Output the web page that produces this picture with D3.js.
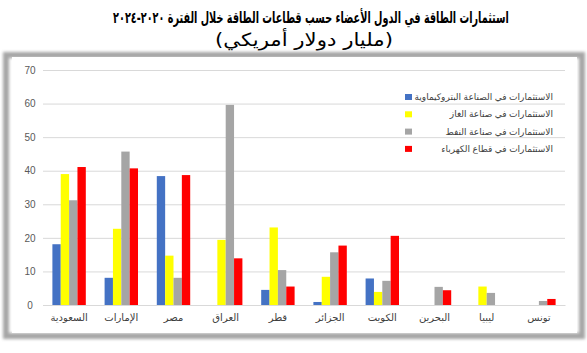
<!DOCTYPE html>
<html><head><meta charset="utf-8">
<script src="https://cdn.jsdelivr.net/npm/d3@7"></script>
<style>body{margin:0;background:#fff}svg{display:block}</style>
</head><body>
<svg id="c" width="587" height="353"></svg>
<script>
const categories = ["السعودية","الإمارات","مصر","العراق","قطر","الجزائر","الكويت","البحرين","ليبيا","تونس"];
const seriesNames = ["الاستثمارات في الصناعة البتروكيماوية","الاستثمارات في صناعة الغاز","الاستثمارات في صناعة النفط","الاستثمارات في قطاع الكهرباء"];
const seriesColors = ["#4472C4","#FFFF00","#A5A5A5","#FF0000"];
const petrochem = [18.1, 8.1, 38.4, 0, 4.5, 0.9, 7.9, 0, 0, 0];
const gas       = [39.0, 22.7, 14.7, 19.4, 23.1, 8.4, 3.9, 0, 5.5, 0];
const oil       = [31.2, 45.7, 8.1, 59.6, 10.4, 15.7, 7.2, 5.4, 3.6, 1.2];
const power     = [41.1, 40.7, 38.7, 13.9, 5.5, 17.7, 20.6, 4.4, 0, 1.8];
const yTicks = [0,10,20,30,40,50,60,70];
const titleLine1 = "استثمارات الطاقة في الدول الأعضاء حسب قطاعات الطاقة خلال الفترة ٢٠٢٠-٢٠٢٤";
const titleLine2 = "(مليار دولار أمريكي)";

(function(){
const series = [petrochem, gas, oil, power];
const svg = d3.select("#c");
const font = "Arial, 'Liberation Sans', 'DejaVu Sans', sans-serif";
const tfont = "'DejaVu Sans Condensed', 'DejaVu Sans', sans-serif";

const defs = svg.append("defs");
defs.append("filter").attr("id","blur").attr("x","-5%").attr("y","-5%").attr("width","110%").attr("height","110%")
  .append("feGaussianBlur").attr("stdDeviation",1.5);
svg.append("rect").attr("x",6).attr("y",55).attr("width",576).attr("height",281)
  .attr("fill","none").attr("stroke","#a6a6a6").attr("stroke-width",6).attr("filter","url(#blur)");
svg.append("rect").attr("x",12).attr("y",57).attr("width",565).attr("height",276).attr("fill","#fff");

function fitX(t, cx, target){
  const w = t.node().getBBox().width;
  if (w > 0) t.attr("transform", `translate(${cx},0) scale(${target/w},1) translate(${-cx},0)`);
}
const t1 = svg.append("text").attr("x",311).attr("y",23).attr("text-anchor","middle").attr("direction","rtl")
  .attr("font-family",tfont).attr("font-weight","bold").attr("font-size",16).attr("fill","#000").text(titleLine1);
fitX(t1, 311, 396);
const t2 = svg.append("text").attr("x",304).attr("y",46).attr("text-anchor","middle").attr("direction","rtl")
  .attr("font-family",tfont).attr("font-size",18).attr("fill","#000").text(titleLine2);
fitX(t2, 304, 178);

const pl = 43, pr = 565, pt = 70, pb = 305;
const y = d3.scaleLinear().domain([0,70]).range([pb, pt]);
const x0 = d3.scaleBand().domain(categories).range([pl, pr]).paddingInner(0.36).paddingOuter(0.18);
const x1 = d3.scaleBand().domain(d3.range(4)).range([0, x0.bandwidth()]);

svg.append("g").selectAll("line").data(yTicks).join("line")
  .attr("x1",pl).attr("x2",pr).attr("y1",d=>y(d)+0.5).attr("y2",d=>y(d)+0.5)
  .attr("stroke","#d9d9d9").attr("stroke-width",1);

const yAxis = d3.axisLeft(y).tickValues(yTicks).tickSize(0).tickPadding(0);
const ya = svg.append("g").attr("transform",`translate(${pl-6},0)`).call(yAxis);
ya.select(".domain").remove();
ya.selectAll("text").attr("font-family",font).attr("font-size",10).attr("fill","#595959").attr("text-anchor","middle").attr("dx",-7);

const g = svg.append("g");
categories.forEach((c,i)=>{
  series.forEach((s,k)=>{
    if (s[i] <= 0) return;
    g.append("rect").attr("x",x0(c)+x1(k)).attr("width",x1.bandwidth())
      .attr("y",y(s[i])).attr("height",y(0)-y(s[i])).attr("fill",seriesColors[k]);
  });
});

const xAxis = d3.axisBottom(x0).tickSize(0).tickPadding(9);
const xa = svg.append("g").attr("transform",`translate(0,${pb})`).call(xAxis);
xa.select(".domain").attr("stroke","#d9d9d9");
xa.selectAll("text").attr("font-family",font).attr("font-size",10).attr("fill","#404040");

const lg = svg.append("g");
seriesNames.forEach((n,k)=>{
  const ly = 97 + k*17.3;
  lg.append("rect").attr("x",405).attr("y",ly-3).attr("width",7).attr("height",6).attr("fill",seriesColors[k]);
  lg.append("text").attr("x",553).attr("y",ly+3).attr("text-anchor","start").attr("direction","rtl")
    .attr("font-family",font).attr("font-size",9).attr("fill","#404040").text(n);
});
})();
</script>
</body></html>
